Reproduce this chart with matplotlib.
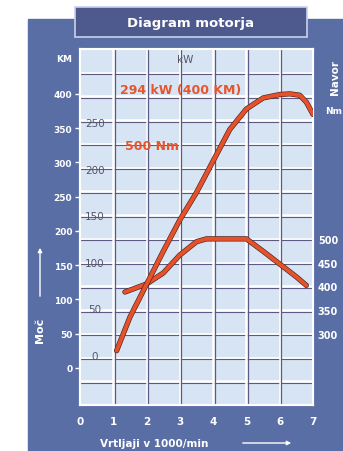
import numpy as np
import matplotlib
matplotlib.use("Agg")
import matplotlib.pyplot as plt
import matplotlib.patheffects as pe
from matplotlib.patches import Rectangle, FancyArrowPatch
from matplotlib.transforms import offset_copy

# engine speed in 1000/min
power_rpm = [1.1, 1.5, 2.0, 2.5, 3.0, 3.5, 4.0, 4.5, 5.0, 5.5, 6.0, 6.3, 6.6, 6.8, 7.0]
power_km = [25, 74, 122, 170, 216, 256, 302, 348, 378, 394, 399, 400, 398, 388, 370]

torque_rpm = [1.35, 2.0, 2.5, 3.0, 3.5, 3.8, 5.0, 5.5, 6.0, 6.5, 6.8]
torque_nm = [388, 405, 428, 466, 494, 500, 500, 474, 447, 420, 402]

rpm_ticks = [0, 1, 2, 3, 4, 5, 6, 7]
km_ticks = [0, 50, 100, 150, 200, 250, 300, 350, 400]
kw_ticks = [0, 50, 100, 150, 200, 250]
nm_ticks = [300, 350, 400, 450, 500]

PANEL = "#5a6ea6"
TITLE_BG = "#4e5a8e"
CELL = "#d7e4f4"
GRID_DARK = "#5d5a82"
CURVE = "#e4512a"
LABEL_RED = "#e8542c"

W, H = 343, 452


def px_box(x0, y0, x1, y1):
    # pixel box (top-left origin) -> figure fraction rectangle
    return [x0 / W, 1 - y1 / H, (x1 - x0) / W, (y1 - y0) / H]


fig = plt.figure(figsize=(W / 100, H / 100), dpi=100)
fig.patch.set_facecolor("white")

# blue backing panel and title box
fig.patches.append(Rectangle((28 / W, 0), 1 - 28 / W, 1 - 20 / H,
                             transform=fig.transFigure, color=PANEL, zorder=-10))
tb = px_box(75, 8, 307, 38)
fig.patches.append(Rectangle((tb[0], tb[1]), tb[2], tb[3], transform=fig.transFigure,
                             facecolor=TITLE_BG, edgecolor="#c9d1ea", lw=1.2, zorder=-5))
fig.text(tb[0] + tb[2] / 2, tb[1] + tb[3] / 2, "Diagram motorja", color="white",
         fontsize=9.5, fontweight="bold", ha="center", va="center")

ax = fig.add_axes(px_box(80, 50, 313, 406))
ax.set_facecolor(CELL)
ax.set_xlim(0, 7)
ax.set_ylim(150, 900)

ax2 = ax.twinx()
ax2.set_ylim(-54.3, 465.5)

# tiled grid: white line with a darker edge just under/right of it
dark_h = offset_copy(ax.transData, fig=fig, x=0, y=-1.5, units="dots")
dark_v = offset_copy(ax.transData, fig=fig, x=1.5, y=0, units="dots")
x0, x1 = ax.get_xlim()
y0, y1 = ax.get_ylim()
for y in np.arange(200, 900, 50):
    ax.plot([x0, x1], [y, y], color="white", lw=1.8, zorder=1)
    ax.plot([x0, x1], [y, y], color=GRID_DARK, lw=0.8, transform=dark_h, zorder=1)
for x in range(1, 7):
    ax.plot([x, x], [y0, y1], color="white", lw=1.8, zorder=1)
    ax.plot([x, x], [y0, y1], color=GRID_DARK, lw=0.9, transform=dark_v, zorder=1)

outline = [pe.Stroke(linewidth=3.8, foreground="#4a2420"), pe.Normal()]
ax.plot(torque_rpm, torque_nm, color=CURVE, lw=2.9, solid_capstyle="round",
        path_effects=outline, zorder=3)
ax2.plot(power_rpm, power_km, color=CURVE, lw=2.9, solid_capstyle="round",
         path_effects=outline, zorder=3)

ax.text(3.03, 407 / 0.693 + 228.3, "294 kW (400 KM)", color=LABEL_RED,
        fontsize=9, fontweight="bold", ha="center", va="center", zorder=4)
ax.text(2.16, 696, "500 Nm", color=LABEL_RED, fontsize=9, fontweight="bold",
        ha="center", va="center", zorder=4)

# x axis
ax.set_xticks(rpm_ticks)
ax.tick_params(axis="x", colors="white", length=0, pad=8, labelsize=7.5)
for lbl in ax.get_xticklabels():
    lbl.set_fontweight("bold")

# Nm labels on the right
ax.yaxis.tick_right()
ax.set_yticks(nm_ticks)
ax.tick_params(axis="y", colors="white", length=0, pad=3.5, labelsize=7)
for lbl in ax.get_yticklabels():
    lbl.set_fontweight("bold")

# KM labels on the left
ax2.yaxis.tick_left()
ax2.set_yticks(km_ticks)
ax2.tick_params(axis="y", colors="white", length=3.5, width=1, pad=2, labelsize=6.5)
for lbl in ax2.get_yticklabels():
    lbl.set_fontweight("bold")

# kW labels inside the first column
for kw in kw_ticks:
    ax2.annotate(str(kw), (0.45, kw * 1.36), xytext=(0, 8.6), textcoords="offset points",
                 color="#55556a", fontsize=7.5, ha="center", va="center", zorder=4)
ax.text(0.45, 0.972, "kW", transform=ax.transAxes, color="#55556a", fontsize=7.5,
        ha="center", va="center")
fig.text(72 / W, 1 - 60 / H, "KM", color="white", fontsize=6.5, fontweight="bold",
         ha="right", va="center")

for axis in (ax, ax2):
    for sp in axis.spines.values():
        sp.set_color("white")
        sp.set_linewidth(1.5)

# side and bottom captions
fig.text(40 / W, 1 - 330 / H, "Moč", color="white", fontsize=8, fontweight="bold",
         rotation=90, ha="center", va="center")
fig.patches.append(FancyArrowPatch((40 / W, 1 - 300 / H), (40 / W, 1 - 246 / H),
                                   transform=fig.transFigure, arrowstyle="-|>",
                                   mutation_scale=6, color="white", lw=1))
fig.text(154 / W, 1 - 444 / H, "Vrtljaji v 1000/min", color="white", fontsize=7.5,
         fontweight="bold", ha="center", va="center")
fig.patches.append(FancyArrowPatch((240 / W, 1 - 444 / H), (294 / W, 1 - 444 / H),
                                   transform=fig.transFigure, arrowstyle="-|>",
                                   mutation_scale=6, color="white", lw=1))
fig.text(335 / W, 1 - 78 / H, "Navor", color="white", fontsize=7.5, fontweight="bold",
         rotation=90, ha="center", va="center")
fig.text(325 / W, 1 - 112 / H, "Nm", color="white", fontsize=6.5, fontweight="bold",
         ha="left", va="center")

fig.savefig("out.png", dpi=100)
